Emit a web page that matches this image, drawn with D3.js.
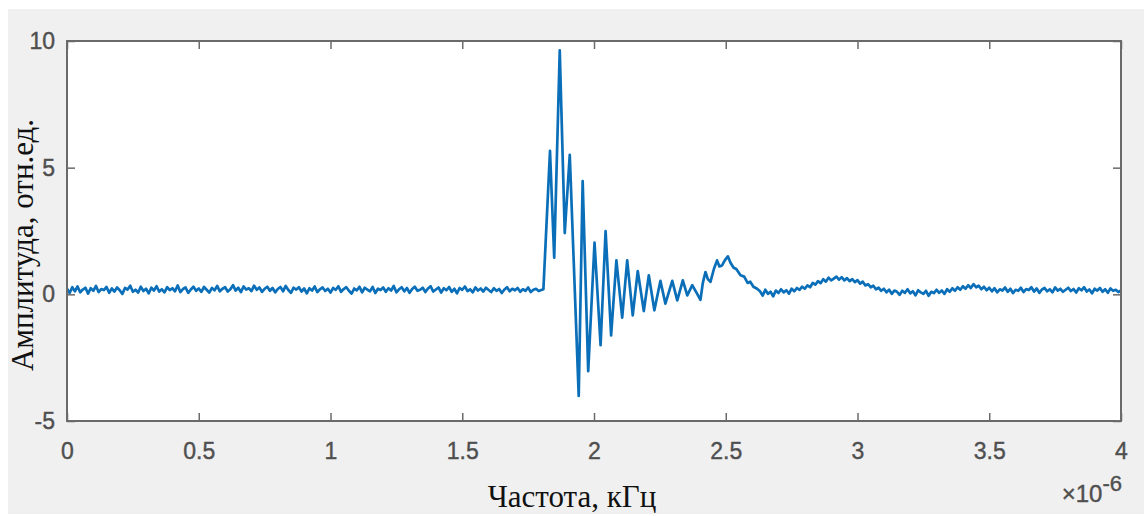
<!DOCTYPE html>
<html>
<head>
<meta charset="utf-8">
<script src="https://cdn.jsdelivr.net/npm/d3@7"></script>
<style>
  html, body { margin: 0; padding: 0; background: #ffffff; }
  svg { display: block; }
</style>
</head>
<body>
<script>
// Данные: амплитуда сигнала, время в микросекундах (×10^-6)
// Шум до импульса, шаг 0.01 (0.00 - 1.80)
const baseStep = 0.01;
const baselineAmp = [
  0.22,0.05,0.28,0.12,0.31,0.08,0.19,0.26,0.03,0.24,0.14,0.33,0.09,0.21,0.17,0.29,0.06,0.23,0.11,0.27,
  0.16,0.02,0.25,0.19,0.34,0.10,0.18,0.07,0.30,0.13,0.22,0.04,0.26,0.15,0.32,0.11,0.20,0.08,0.28,0.17,
  0.24,0.12,0.35,0.09,0.21,0.27,0.06,0.19,0.30,0.14,0.23,0.10,0.29,0.18,0.07,0.25,0.16,0.33,0.12,0.22,
  0.28,0.11,0.20,0.36,0.15,0.26,0.09,0.31,0.19,0.24,0.13,0.34,0.18,0.27,0.10,0.22,0.30,0.14,0.25,0.08,
  0.21,0.29,0.12,0.33,0.17,0.06,0.26,0.19,0.28,0.11,0.23,0.04,0.24,0.15,0.31,0.09,0.20,0.27,0.13,0.22,
  0.07,0.25,0.18,0.32,0.10,0.21,0.28,0.14,0.03,0.23,0.16,0.30,0.08,0.26,0.19,0.12,0.29,0.05,0.22,0.17,
  0.27,0.10,0.24,0.15,0.33,0.08,0.20,0.28,0.12,0.25,0.06,0.21,0.30,0.14,0.18,0.26,0.09,0.23,0.32,0.11,
  0.19,0.27,0.07,0.24,0.16,0.29,0.10,0.22,0.04,0.25,0.18,0.31,0.13,0.20,0.08,0.27,0.15,0.23,0.11,0.26,
  0.17,0.09,0.24,0.14,0.21,0.05,0.19,0.28,0.12,0.22,0.16,0.25,0.10,0.20,0.14,0.27,0.09,0.18,0.22,0.13,
  0.17
];

// Импульс и затухающие колебания (точки)
const burstTime = [
  1.808,1.833,1.849,1.870,1.889,1.908,1.942,1.957,1.978,2.002,2.025,2.044,2.065,2.085,2.107,2.126,
  2.147,2.166,2.189,2.208,2.229,2.252,2.271,2.297,2.316,2.337,2.354,2.373,2.390,2.404,2.413,2.423,
  2.432,2.442,2.455,2.467,2.476,2.486,2.497,2.508,2.518,2.530,2.540,2.556,2.570,2.583,2.593,2.605,2.619
];
const burstAmp = [
  0.20,5.66,1.45,9.63,2.42,5.51,-4.01,4.47,-3.03,2.04,-2.01,2.50,-1.62,1.34,-0.92,1.34,
  -0.83,0.92,-0.66,0.75,-0.63,0.53,-0.37,0.53,-0.24,0.55,-0.04,0.36,0.05,-0.22,0.45,0.88,
  0.60,0.49,1.00,1.34,1.10,1.14,1.35,1.50,1.25,1.05,1.00,0.75,0.70,0.45,0.50,0.30,0.22
];

// Хвост, шаг 0.01 (2.63 - 4.00)
const tailStart = 2.63;
const tailAmp = [
  0.12,-0.05,0.18,0.02,0.10,-0.08,0.15,0.05,
  0.20,0.08,0.16,0.03,0.22,0.12,0.25,0.18,0.30,0.22,
  0.35,0.28,0.45,0.38,0.52,0.44,0.60,0.50,0.66,0.55,
  0.62,0.70,0.58,0.68,0.55,0.64,0.52,0.60,0.48,0.56,
  0.42,0.50,0.35,0.40,0.28,0.34,0.20,0.26,0.14,0.22,
  0.08,0.18,0.02,0.15,0.10,-0.02,0.14,0.06,0.20,0.04,
  0.12,-0.04,0.16,0.08,0.02,0.14,-0.06,0.10,0.05,0.18,
  0.06,0.15,0.02,0.20,0.10,0.24,0.14,0.28,0.18,0.32,
  0.22,0.36,0.25,0.40,0.28,0.34,0.20,0.30,0.16,0.26,
  0.12,0.24,0.08,0.20,0.15,0.27,0.10,0.22,0.05,0.18,
  0.14,0.26,0.09,0.21,0.17,0.28,0.11,0.23,0.06,0.19,
  0.25,0.12,0.20,0.08,0.27,0.15,0.22,0.10,0.18,0.26,
  0.13,0.21,0.07,0.24,0.16,0.28,0.11,0.19,0.04,0.22,
  0.15,0.25,0.10,0.20,0.06,0.23,0.14,0.18,0.09,0.16
];

const xTicks = [0, 0.5, 1, 1.5, 2, 2.5, 3, 3.5, 4];
const yTicks = [-5, 0, 5, 10];
const xLabel = "Частота, кГц";
const yLabel = "Амплитуда, отн.ед.";

// Сборка точек
let points = [];
baselineAmp.forEach((v, i) => points.push({t: +(i * baseStep).toFixed(3), v: v}));
burstTime.forEach((t, i) => points.push({t: t, v: burstAmp[i]}));
tailAmp.forEach((v, i) => points.push({t: +(tailStart + i * baseStep).toFixed(3), v: v}));

const W = 1144, H = 516;
const marges = {top: 41, right: 23, bottom: 95, left: 67};
const largeur = W - marges.left - marges.right;
const hauteur = H - marges.top - marges.bottom;

const svg = d3.select("body").append("svg")
  .attr("width", W)
  .attr("height", H);

// fond gris de la figure
svg.append("rect")
  .attr("x", 8).attr("y", 9)
  .attr("width", W - 8).attr("height", 505)
  .attr("fill", "#f0f0f0");

const g = svg.append("g")
  .attr("transform", "translate(" + marges.left + "," + marges.top + ")");

g.append("rect")
  .attr("width", largeur).attr("height", hauteur)
  .attr("fill", "#ffffff");

const x = d3.scaleLinear().domain([0, 4]).range([0, largeur]);
const y = d3.scaleLinear().domain([-5, 10]).range([hauteur, 0]);

// courbe
const ligne = d3.line()
  .x(d => x(d.t))
  .y(d => y(d.v));

g.append("path")
  .datum(points)
  .attr("fill", "none")
  .attr("stroke", "#0a6fb8")
  .attr("stroke-width", 2.7)
  .attr("stroke-linejoin", "round")
  .attr("d", ligne);

const fmt = d => String(d);
const policeTicks = "'Liberation Sans', Arial, Helvetica, sans-serif";

// axes (ticks vers l'intérieur)
function styleAxe(sel) {
  sel.select(".domain").remove();
  sel.selectAll(".tick line").attr("stroke", "#6a6a6a").attr("stroke-width", 1.5);
  sel.selectAll(".tick text")
    .attr("fill", "#4f4f4f")
    .attr("stroke", "#4f4f4f")
    .attr("stroke-width", 0.4)
    .style("font-family", policeTicks)
    .style("font-size", "23px");
}

g.append("g")
  .attr("transform", "translate(0," + hauteur + ")")
  .call(d3.axisBottom(x).tickValues(xTicks).tickFormat(fmt).tickSizeInner(-8).tickSizeOuter(0).tickPadding(22))
  .call(styleAxe);

g.append("g")
  .call(d3.axisTop(x).tickValues(xTicks).tickFormat("").tickSizeInner(-8).tickSizeOuter(0))
  .call(styleAxe);

g.append("g")
  .call(d3.axisLeft(y).tickValues(yTicks).tickFormat(fmt).tickSizeInner(-8).tickSizeOuter(0).tickPadding(12))
  .call(styleAxe);

g.append("g")
  .attr("transform", "translate(" + largeur + ",0)")
  .call(d3.axisRight(y).tickValues(yTicks).tickFormat("").tickSizeInner(-8).tickSizeOuter(0))
  .call(styleAxe);

// cadre
g.append("rect")
  .attr("width", largeur).attr("height", hauteur)
  .attr("fill", "none")
  .attr("stroke", "#6a6a6a")
  .attr("stroke-width", 2);

// exposant ×10^-6
const expo = svg.append("text")
  .attr("x", marges.left + largeur + 1)
  .attr("y", 502)
  .attr("text-anchor", "end")
  .attr("fill", "#4f4f4f")
  .attr("stroke", "#4f4f4f")
  .attr("stroke-width", 0.4)
  .style("font-family", policeTicks)
  .style("font-size", "24px");
expo.append("tspan").text("×10");
expo.append("tspan").attr("dy", -11).style("font-size", "22px").text("-6");

// titres des axes
svg.append("text")
  .attr("x", 572)
  .attr("y", 507)
  .attr("text-anchor", "middle")
  .attr("fill", "#111111")
  .style("font-family", "'Liberation Serif', 'Times New Roman', serif")
  .style("font-size", "31px")
  .text(xLabel);

svg.append("text")
  .attr("transform", "translate(33,245) rotate(-90)")
  .attr("text-anchor", "middle")
  .attr("fill", "#111111")
  .style("font-family", "'Liberation Serif', 'Times New Roman', serif")
  .style("font-size", "31px")
  .text(yLabel);
</script>
</body>
</html>
